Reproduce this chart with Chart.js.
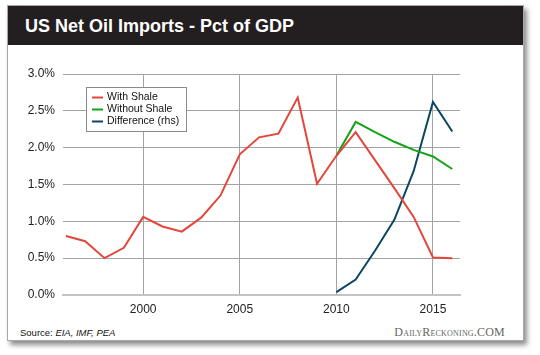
<!DOCTYPE html>
<html>
<head>
<meta charset="utf-8">
<script src="https://cdn.jsdelivr.net/npm/chart.js@4"></script>
<style>
  html, body { margin: 0; padding: 0; background: #fff; }
  #wrap { position: relative; width: 540px; height: 355px; overflow: hidden; }
  #card {
    position: absolute; left: 7px; top: 5px; width: 517px; height: 336px;
    background: #fff; border: 1px solid #a8a8a8; box-sizing: border-box;
    box-shadow: 3px 4px 5px rgba(0,0,0,0.45);
  }
  #header {
    position: absolute; left: 0; top: 0; right: 0; height: 39px; background: #231f20;
  }
  #title {
    position: absolute; left: 17px; top: 10px; color: #fff;
    font: bold 18px "Liberation Sans", Arial, sans-serif; white-space: nowrap;
  }
  #source {
    position: absolute; left: 20px; top: 327px;
    font: 9.5px "Liberation Sans", Arial, sans-serif; color: #111;
  }
  #brand {
    position: absolute; right: 35px; top: 325px;
    font: 12px "Liberation Serif", "DejaVu Serif", serif; font-variant: small-caps;
    color: #666; letter-spacing: 0.2px;
  }
  canvas { position: absolute; left: 0; top: 0; }
</style>
</head>
<body>
<div id="wrap">
  <div id="card"><div id="header"><div id="title">US Net Oil Imports - Pct of GDP</div></div></div>
  <div id="source">Source: <i>EIA, IMF, PEA</i></div>
  <div id="brand">DailyReckoning.COM</div>
  <canvas id="chart" width="540" height="355"></canvas>
</div>
<script>
// Data
const years = [1996, 1997, 1998, 1999, 2000, 2001, 2002, 2003, 2004, 2005, 2006,
               2007, 2008, 2009, 2010, 2011, 2012, 2013, 2014, 2015, 2016];
const withShale = [0.80, 0.73, 0.50, 0.64, 1.06, 0.93, 0.86, 1.05, 1.35, 1.91, 2.14,
                   2.19, 2.68, 1.51, 1.89, 2.21, 1.83, 1.45, 1.06, 0.51, 0.50];
const withoutShale = [null, null, null, null, null, null, null, null, null, null, null,
                      null, null, null, 1.89, 2.35, 2.21, 2.08, 1.97, 1.88, 1.71];
const difference = [null, null, null, null, null, null, null, null, null, null, null,
                    null, null, null, 0.04, 0.21, 0.60, 1.02, 1.68, 2.62, 2.22];
const xTicks = [2000, 2005, 2010, 2015];

function points(values) {
  return years.map((y, i) => ({ x: y, y: values[i] }));
}

// legend box drawn inside the plot
const boxLegend = {
  id: "boxLegend",
  afterDraw(chart) {
    const ctx = chart.ctx;
    const x = 86, y = 87, w = 100, h = 44;
    ctx.save();
    ctx.fillStyle = "#fff";
    ctx.fillRect(x, y, w, h);
    ctx.strokeStyle = "#8a8a8a";
    ctx.lineWidth = 1;
    ctx.strokeRect(x + 0.5, y + 0.5, w, h);
    ctx.font = '10.5px "Liberation Sans", Arial, sans-serif';
    ctx.textBaseline = "middle";
    chart.data.datasets.forEach((ds, i) => {
      const ly = y + 10.5 + i * 12;
      ctx.strokeStyle = ds.borderColor;
      ctx.lineWidth = 2;
      ctx.beginPath();
      ctx.moveTo(x + 6, ly);
      ctx.lineTo(x + 17, ly);
      ctx.stroke();
      ctx.fillStyle = "#111";
      ctx.fillText(ds.label, x + 21, ly);
    });
    ctx.restore();
  }
};

new Chart(document.getElementById("chart"), {
  type: "line",
  data: {
    datasets: [
      { label: "With Shale", data: points(withShale), borderColor: "#e5463b", borderWidth: 2, yAxisID: "y" },
      { label: "Without Shale", data: points(withoutShale), borderColor: "#14a314", borderWidth: 2, yAxisID: "y" },
      { label: "Difference (rhs)", data: points(difference), borderColor: "#0d4566", borderWidth: 2, yAxisID: "y1" }
    ]
  },
  options: {
    responsive: false,
    animation: false,
    events: [],
    elements: { point: { radius: 0 }, line: { tension: 0 } },
    layout: { padding: { left: 0, top: 74, right: 80, bottom: 30 } },
    plugins: { legend: { display: false }, tooltip: { enabled: false } },
    scales: {
      x: {
        type: "linear",
        min: 1995.85,
        max: 2016.4,
        afterBuildTicks: (scale) => { scale.ticks = xTicks.map(v => ({ value: v })); },
        afterFit: (scale) => { scale.height = 30; },
        grid: { color: "#a3a3a3", lineWidth: 1, drawTicks: false },
        border: { display: true, color: "#c4c4c4", width: 2 },
        ticks: {
          padding: 7,
          color: "#222",
          font: { family: '"Liberation Sans", Arial, sans-serif', size: 12 },
          callback: (v) => String(v)
        }
      },
      y: {
        min: 0,
        max: 3,
        afterFit: (scale) => { scale.width = 63; },
        grid: { color: "#a3a3a3", lineWidth: 1, drawTicks: false },
        border: { display: false },
        ticks: {
          stepSize: 0.5,
          padding: 8,
          color: "#222",
          font: { family: '"Liberation Sans", Arial, sans-serif', size: 12 },
          callback: (v) => v.toFixed(1) + "%"
        }
      },
      y1: { display: false, min: 0, max: 3 }
    }
  },
  plugins: [boxLegend]
});
</script>
</body>
</html>
